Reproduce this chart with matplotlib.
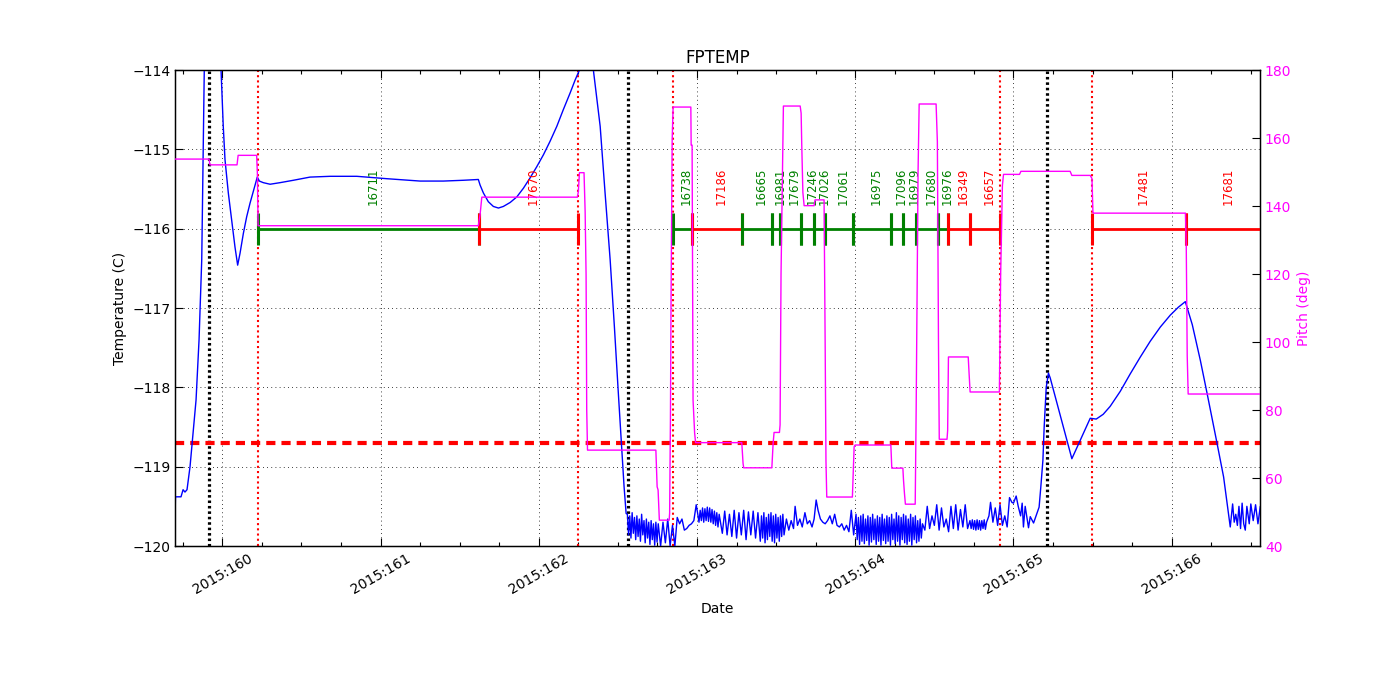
import matplotlib
matplotlib.use('Agg')
import matplotlib.pyplot as plt
from matplotlib.ticker import MultipleLocator, FuncFormatter, FixedLocator

plt.rcParams['font.family'] = ['DejaVu Sans']
plt.rcParams['axes.unicode_minus'] = True

# ---------------- data (2015 day-of-year, FPTEMP in deg C) ----------------
temp_warm1 = [
    (159.695, -120.18), (159.704, -119.38), (159.739, -119.38), (159.752, -119.29),
    (159.764, -119.32), (159.777, -119.29), (159.796, -119.00), (159.817, -118.54),
    (159.834, -118.16), (159.853, -117.40), (159.870, -116.39), (159.886, -114.00),
    (159.903, -111.90), (159.935, -111.20), (159.973, -112.50), (159.992, -114.00),
    (160.006, -114.71), (160.017, -115.13), (160.038, -115.55), (160.059, -115.89),
    (160.080, -116.23), (160.097, -116.46), (160.112, -116.31), (160.133, -116.06),
    (160.154, -115.85), (160.175, -115.68), (160.196, -115.53), (160.221, -115.35),
    (160.234, -115.40), (160.259, -115.42), (160.302, -115.44), (160.365, -115.42),
    (160.449, -115.39), (160.554, -115.35), (160.681, -115.34), (160.850, -115.34),
    (161.039, -115.37), (161.250, -115.40), (161.397, -115.40), (161.523, -115.39),
    (161.618, -115.38), (161.629, -115.45), (161.650, -115.55), (161.681, -115.66),
    (161.713, -115.72), (161.745, -115.74), (161.776, -115.72), (161.819, -115.67),
    (161.861, -115.60), (161.903, -115.49), (161.945, -115.36), (161.987, -115.22),
    (162.029, -115.07), (162.071, -114.90), (162.114, -114.71), (162.155, -114.50),
    (162.198, -114.29), (162.229, -114.13), (162.257, -114.00), (162.286, -113.62),
    (162.318, -113.62), (162.345, -114.00), (162.388, -114.71), (162.419, -115.55),
    (162.451, -116.39), (162.478, -117.24), (162.503, -118.08), (162.525, -118.79),
    (162.539, -119.25), (162.552, -119.59),
]
temp_cold = [
    (162.5600, -119.60), (162.5675, -119.86), (162.5750, -119.62), (162.5825, -119.90),
    (162.5900, -119.58), (162.5975, -119.84), (162.6050, -119.64), (162.6125, -119.92),
    (162.6200, -119.62), (162.6275, -119.88), (162.6350, -119.66), (162.6425, -119.94),
    (162.6500, -119.60), (162.6575, -119.86), (162.6650, -119.68), (162.6725, -119.96),
    (162.6800, -119.66), (162.6875, -119.90), (162.6950, -119.70), (162.7025, -119.98),
    (162.7100, -119.68), (162.7175, -119.92), (162.7250, -119.72), (162.7325, -119.99),
    (162.7400, -119.70), (162.7475, -119.95),
    (162.755, -119.72), (162.770, -120.00), (162.785, -119.70), (162.800, -119.96),
    (162.815, -119.66), (162.830, -120.00), (162.845, -119.74), (162.860, -120.00),
    (162.875, -119.64), (162.890, -119.72), (162.905, -119.66), (162.920, -119.80),
    (162.935, -119.78), (162.950, -119.74), (162.965, -119.72), (162.980, -119.68),
    (162.995, -119.48),
    (163.0050, -119.60), (163.0125, -119.70), (163.0200, -119.55), (163.0275, -119.68),
    (163.0350, -119.52), (163.0425, -119.70), (163.0500, -119.53), (163.0575, -119.68),
    (163.0650, -119.51), (163.0725, -119.69), (163.0800, -119.52), (163.0875, -119.70),
    (163.0950, -119.54), (163.1025, -119.72), (163.1100, -119.56), (163.1175, -119.74),
    (163.1250, -119.58), (163.1325, -119.76), (163.1400, -119.60),
    (163.160, -119.84), (163.175, -119.56), (163.190, -119.86), (163.205, -119.60),
    (163.220, -119.88), (163.235, -119.55), (163.250, -119.90), (163.265, -119.58),
    (163.280, -119.86), (163.295, -119.55), (163.310, -119.92), (163.325, -119.57),
    (163.340, -119.86), (163.355, -119.56), (163.370, -119.90), (163.385, -119.58),
    (163.4000, -119.94), (163.4075, -119.62), (163.4150, -119.90), (163.4225, -119.58),
    (163.4300, -119.96), (163.4375, -119.64), (163.4450, -119.92), (163.4525, -119.60),
    (163.4600, -119.88), (163.4675, -119.58), (163.4750, -119.94), (163.4825, -119.62),
    (163.4900, -119.96), (163.4975, -119.60), (163.5050, -119.90), (163.5125, -119.64),
    (163.5200, -119.94), (163.5275, -119.62), (163.5350, -119.88), (163.5425, -119.60),
    (163.5500, -119.86),
    (163.565, -119.66), (163.580, -119.80), (163.595, -119.68), (163.610, -119.78),
    (163.620, -119.50), (163.635, -119.74), (163.650, -119.66), (163.665, -119.76),
    (163.682, -119.58), (163.697, -119.72), (163.712, -119.68), (163.727, -119.76),
    (163.740, -119.66), (163.753, -119.42), (163.765, -119.55), (163.780, -119.66),
    (163.795, -119.70), (163.810, -119.72), (163.825, -119.68), (163.840, -119.62),
    (163.855, -119.72), (163.870, -119.60), (163.885, -119.74), (163.900, -119.76),
    (163.915, -119.72), (163.930, -119.80), (163.945, -119.74), (163.960, -119.82),
    (163.975, -119.55), (163.990, -119.86),
    (164.0050, -119.60), (164.0125, -119.92), (164.0200, -119.64), (164.0275, -119.98),
    (164.0350, -119.62), (164.0425, -119.94), (164.0500, -119.60), (164.0575, -119.97),
    (164.0650, -119.66), (164.0725, -119.93), (164.0800, -119.62), (164.0875, -119.99),
    (164.0950, -119.64), (164.1025, -119.95), (164.1100, -119.60), (164.1175, -119.92),
    (164.1250, -119.66), (164.1325, -119.98), (164.1400, -119.62), (164.1475, -119.94),
    (164.1550, -119.64), (164.1625, -119.99), (164.1700, -119.60), (164.1775, -119.93),
    (164.1850, -119.66), (164.1925, -119.97), (164.2000, -119.62), (164.2075, -119.94),
    (164.2150, -119.64), (164.2225, -119.99), (164.2300, -119.60), (164.2375, -119.92),
    (164.2450, -119.66), (164.2525, -119.97), (164.2600, -119.58), (164.2675, -119.94),
    (164.2750, -119.62), (164.2825, -119.99), (164.2900, -119.64), (164.2975, -119.92),
    (164.3050, -119.60), (164.3125, -119.96), (164.3200, -119.62), (164.3275, -119.98),
    (164.3350, -119.66), (164.3425, -119.94), (164.3500, -119.60), (164.3575, -119.99),
    (164.3650, -119.64), (164.3725, -119.92), (164.3800, -119.62), (164.3875, -119.96),
    (164.3950, -119.68), (164.4025, -119.94), (164.4100, -119.66), (164.4175, -119.90),
    (164.4250, -119.72),
    (164.440, -119.80), (164.455, -119.50), (164.470, -119.78), (164.485, -119.62),
    (164.500, -119.74), (164.515, -119.48), (164.530, -119.80), (164.545, -119.52),
    (164.560, -119.76), (164.575, -119.66), (164.590, -119.82), (164.605, -119.50),
    (164.620, -119.78), (164.635, -119.48), (164.650, -119.80), (164.665, -119.54),
    (164.680, -119.76), (164.695, -119.48), (164.710, -119.78),
    (164.7250, -119.68), (164.7325, -119.78), (164.7400, -119.67), (164.7475, -119.79),
    (164.7550, -119.68), (164.7625, -119.80), (164.7700, -119.67), (164.7775, -119.79),
    (164.7850, -119.68), (164.7925, -119.80), (164.8000, -119.68), (164.8075, -119.78),
    (164.8150, -119.67), (164.8225, -119.79), (164.8300, -119.70),
    (164.845, -119.62), (164.855, -119.45), (164.870, -119.70), (164.885, -119.52),
    (164.900, -119.74), (164.915, -119.48), (164.930, -119.74), (164.945, -119.62),
    (164.960, -119.76), (164.975, -119.39), (164.990, -119.45), (165.000, -119.46),
    (165.017, -119.37), (165.030, -119.50), (165.045, -119.62), (165.055, -119.46),
    (165.063, -119.76), (165.074, -119.50), (165.095, -119.77), (165.106, -119.63),
    (165.127, -119.71),
]
temp_warm2 = [
    (165.162, -119.51), (165.173, -119.25), (165.186, -118.92), (165.194, -118.50),
    (165.207, -118.00), (165.221, -117.82), (165.232, -117.88), (165.369, -118.90),
    (165.485, -118.39), (165.523, -118.40), (165.567, -118.34), (165.611, -118.24),
    (165.675, -118.05), (165.738, -117.83), (165.801, -117.62), (165.864, -117.42),
    (165.928, -117.24), (165.991, -117.09), (166.042, -116.99), (166.086, -116.92),
    (166.130, -117.21), (166.181, -117.66), (166.223, -118.07), (166.286, -118.70),
    (166.328, -119.13), (166.370, -119.76),
    (166.385, -119.47), (166.395, -119.70), (166.405, -119.60), (166.415, -119.74),
    (166.425, -119.50), (166.435, -119.78), (166.445, -119.46), (166.455, -119.72),
    (166.465, -119.80), (166.475, -119.50), (166.490, -119.72), (166.500, -119.47),
    (166.515, -119.68), (166.530, -119.48), (166.545, -119.72), (166.560, -119.50),
    (166.575, -119.70),
]

pitch_time = [
    159.660, 159.916, 159.922, 160.093, 160.100, 160.217, 160.222, 160.226, 161.618, 161.629,
    161.640, 162.244, 162.250, 162.257, 162.286, 162.293, 162.299, 162.303, 162.308, 162.740,
    162.748, 162.754, 162.762, 162.824, 162.827, 162.832, 162.836, 162.843, 162.849, 162.961,
    162.963, 162.969, 162.975, 162.985, 162.991, 163.283, 163.291, 163.295, 163.473, 163.481,
    163.487, 163.521, 163.525, 163.531, 163.546, 163.652, 163.658, 163.662, 163.669, 163.677,
    163.740, 163.746, 163.803, 163.810, 163.815, 163.820, 163.982, 163.993, 163.999, 164.225,
    164.231, 164.301, 164.305, 164.311, 164.317, 164.379, 164.385, 164.397, 164.404, 164.511,
    164.519, 164.526, 164.531, 164.580, 164.584, 164.589, 164.714, 164.720, 164.726, 164.911,
    164.919, 164.930, 164.937, 165.038, 165.047, 165.358, 165.369, 165.485, 165.496, 165.502,
    165.506, 166.087, 166.092, 166.098, 166.104, 166.620,
]
pitch_vals = [
    153.8, 153.8, 152.1, 152.1, 154.9, 154.9, 149.1, 134.2, 134.2, 137.4,
    142.6, 142.6, 144.2, 149.8, 149.8, 138.3, 119.7, 80.0, 68.2, 68.2,
    57.4, 56.5, 47.6, 47.6, 49.7, 76.6, 112.4, 159.4, 169.1, 169.1,
    157.9, 157.9, 82.9, 73.2, 70.4, 70.4, 64.3, 63.0, 63.0, 70.2,
    73.4, 73.4, 75.6, 120.0, 169.4, 169.4, 167.3, 157.9, 144.0, 140.1,
    140.1, 141.8, 141.8, 98.5, 65.0, 54.4, 54.4, 69.2, 69.7, 69.7,
    62.9, 62.9, 59.4, 55.5, 52.3, 52.3, 80.0, 150.0, 170.0, 170.0,
    158.9, 100.0, 71.4, 71.4, 74.0, 95.6, 95.6, 90.3, 85.3, 85.3,
    120.0, 146.0, 149.3, 149.3, 150.2, 150.2, 149.0, 149.0, 148.1, 138.3,
    137.9, 137.9, 128.0, 96.0, 84.7, 84.7,
]

black_lines = [159.918, 162.566, 165.211]
red_lines = [160.224, 162.248, 162.847, 164.918, 165.496]
temp_limit = -118.7

obs_ids = ['16711', '17670', '16738', '17186', '16665', '16981', '17679', '17246', '17026',
           '17061', '16975', '17096', '16979', '17680', '16976', '16349', '16657', '17481',
           '17681']
obs_start = [160.224, 161.625, 162.847, 162.967, 163.283, 163.475, 163.525, 163.656, 163.742,
             163.808, 163.984, 164.225, 164.301, 164.385, 164.520, 164.589, 164.726, 165.496,
             166.092]
obs_stop = [161.625, 162.248, 162.967, 163.283, 163.475, 163.525, 163.656, 163.742, 163.808,
            163.984, 164.225, 164.301, 164.385, 164.520, 164.589, 164.726, 164.916, 166.092,
            166.570]
obs_colors = ['green', 'red', 'green', 'red', 'green', 'green', 'green', 'green', 'green',
              'green', 'green', 'green', 'green', 'green', 'green', 'red', 'red', 'red', 'red']
obs_level = -116.0
label_level = -115.70

x_range = (159.701, 166.558)
temp_range = (-120, -114)
pitch_range = (40, 180)

temp_samples = temp_warm1 + temp_cold + temp_warm2
temp_time = [t for t, v in temp_samples]
temp_vals = [v for t, v in temp_samples]

# ---------------- figure ----------------
fig = plt.figure(figsize=(14, 7), dpi=100, facecolor='white')
ax = fig.add_axes([0.125, 0.22, 0.775, 0.68])

ax.grid(True, which='major', color='black', linestyle=(0, (1, 4)), linewidth=0.6)
ax.set_axisbelow(True)

for x in black_lines:
    ax.axvline(x, color='black', linestyle=(0, (0.8, 0.9)), linewidth=2.3, zorder=2)
for x in red_lines:
    ax.axvline(x, color='red', linestyle=(0, (1, 1.5)), linewidth=1.5, zorder=2)
ax.axhline(temp_limit, color='red', linestyle=(0, (2.2, 1.45)), linewidth=3, zorder=2)

ax.plot(temp_time, temp_vals, color='blue', linewidth=1, zorder=3)

for oid, s, e, c in zip(obs_ids, obs_start, obs_stop, obs_colors):
    ax.plot([s, e], [obs_level, obs_level], color=c, linewidth=2, marker='|',
            markersize=23, markeredgewidth=2.2, solid_capstyle='butt', zorder=4)
    ax.annotate(oid, xy=((s + e) / 2, label_level), xytext=(3, 0),
                textcoords='offset points', rotation=90, ha='center', va='bottom',
                color=c, fontsize=8.5, zorder=4)

ax.set_xlim(*x_range)
ax.set_ylim(*temp_range)
ax.xaxis.set_major_locator(MultipleLocator(1))
ax.xaxis.set_minor_locator(MultipleLocator(0.25))
ax.xaxis.set_major_formatter(FuncFormatter(lambda v, p: '2015:%03d' % int(round(v))))
ax.yaxis.set_major_locator(MultipleLocator(1))
ax.tick_params(axis='x', which='both', direction='in', top=True, bottom=True,
               labelsize=10, pad=4, labelrotation=30)
ax.tick_params(axis='x', which='major', length=5.5, width=0.8)
ax.tick_params(axis='x', which='minor', length=3, width=0.8)
ax.tick_params(axis='y', which='major', direction='in', length=5.5, width=0.8,
               labelsize=10, pad=3, right=False)
for lbl in ax.get_xticklabels():
    lbl.set_horizontalalignment('center')

ax.set_title('FPTEMP', fontsize=12, pad=5)
ax.set_xlabel('Date', fontsize=10)
ax.set_ylabel('Temperature (C)', fontsize=10)

ax2 = ax.twinx()
ax2.plot(pitch_time, pitch_vals, color='magenta', linewidth=1, zorder=5)
ax2.set_ylim(*pitch_range)
ax2.yaxis.set_major_locator(FixedLocator(list(range(40, 181, 20))))
ax2.tick_params(axis='y', direction='in', length=5.5, width=0.8, labelsize=10,
                labelcolor='magenta', pad=3.5)
ax2.set_ylabel('Pitch (deg)', color='magenta', fontsize=10)
ax2.set_xlim(*x_range)

for sp in ax.spines.values():
    sp.set_linewidth(1.0)

fig.savefig('out.png', dpi=100, facecolor='white')
